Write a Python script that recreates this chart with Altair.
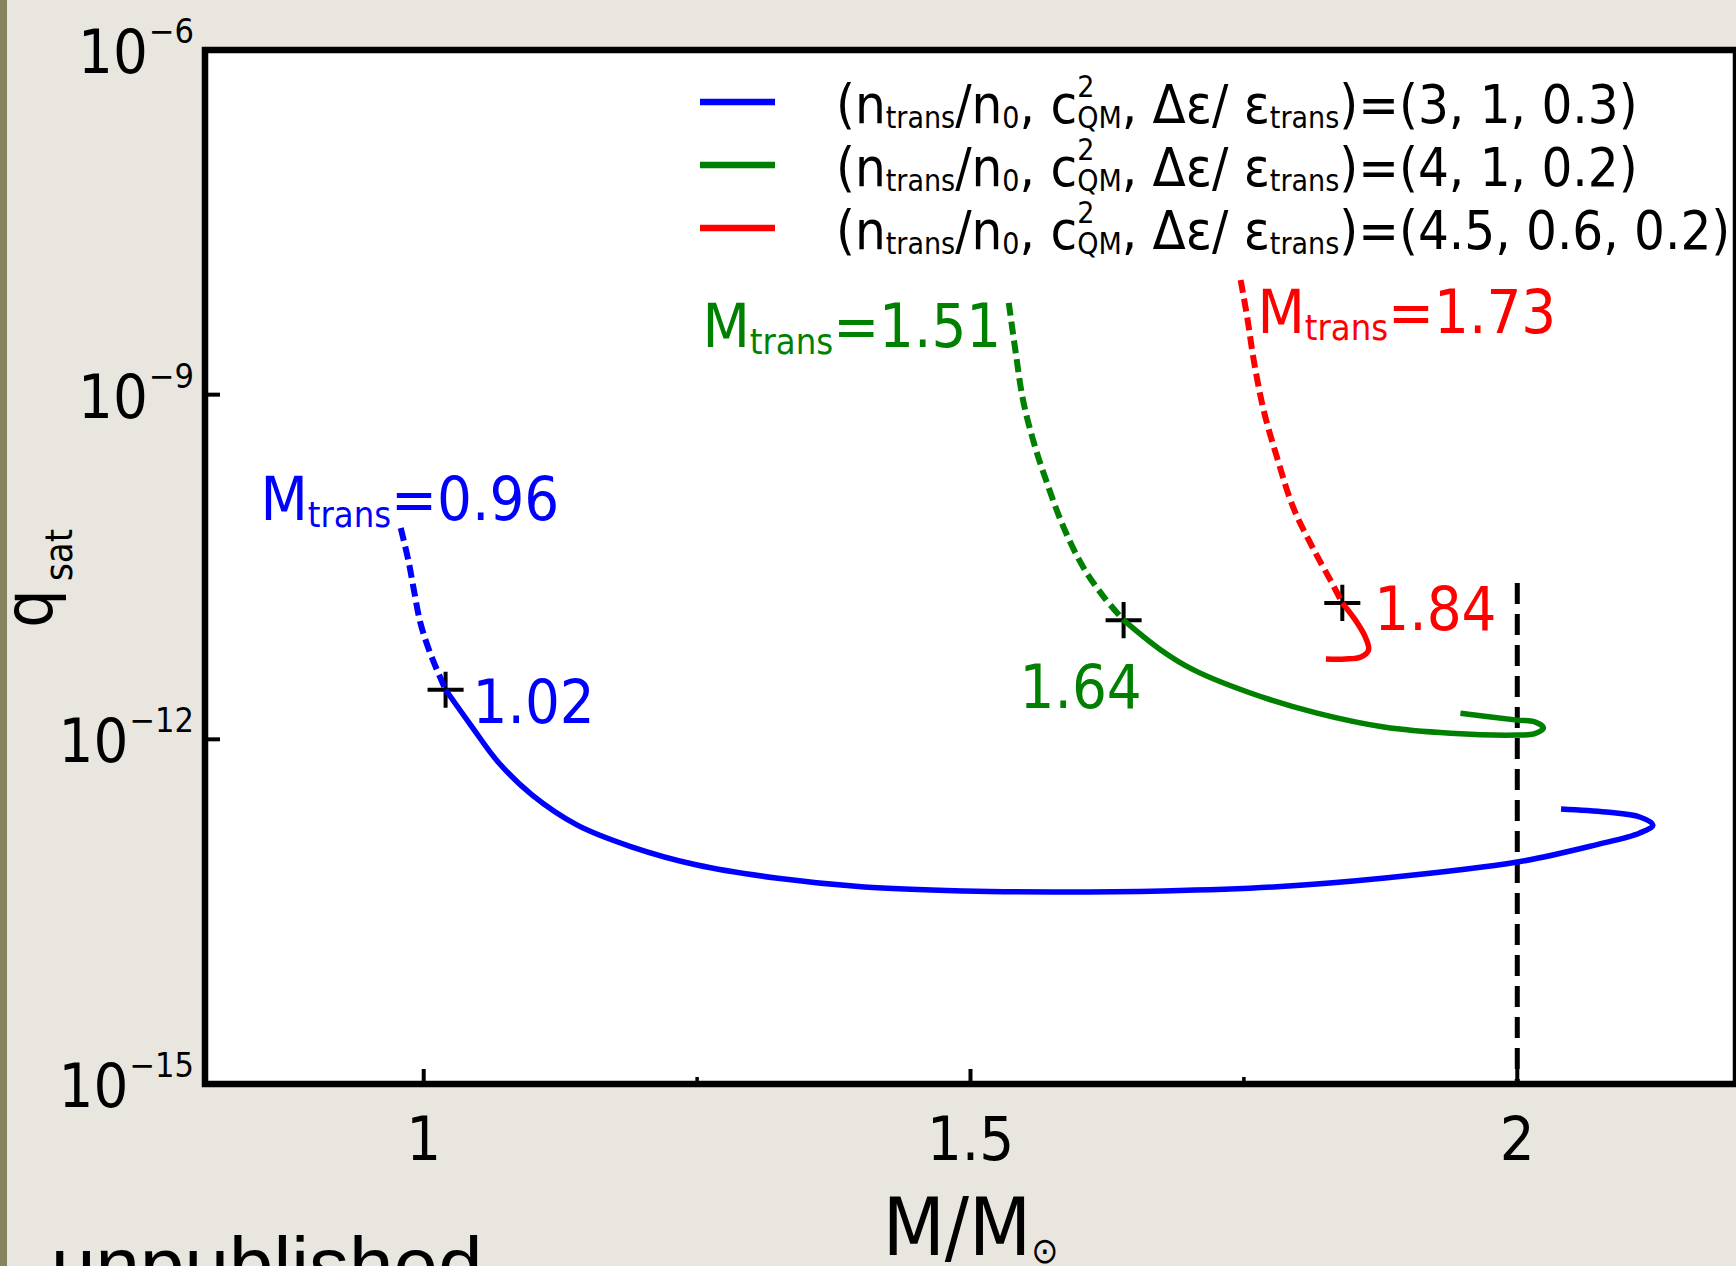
import altair as alt
import pandas as pd

# ---------------- data ----------------
# q_sat versus M/M_sun for three hybrid-star equations of state.
# Dashed parts run from the top of each branch down to the marked point,
# solid parts continue from there.
blue_dash_m = [0.979, 0.986, 0.991, 0.997, 1.006, 1.02]
blue_dash_q = [6.9e-11, 3.6e-11, 2.0e-11, 1.03e-11, 5.6e-12, 2.7e-12]
blue_solid_m = [1.02, 1.043, 1.068, 1.099, 1.140, 1.190, 1.250, 1.322, 1.403, 1.494,
                1.575, 1.676, 1.777, 1.879, 2.0, 2.071, 2.112, 2.124, 2.112, 2.081, 2.040]
blue_solid_q = [2.7e-12, 1.33e-12, 6.35e-13, 3.28e-13, 1.80e-13, 1.16e-13, 8.05e-14, 6.21e-14,
                5.19e-14, 4.79e-14, 4.69e-14, 4.79e-14, 5.19e-14, 6.21e-14, 8.55e-14, 1.20e-13,
                1.53e-13, 1.80e-13, 2.11e-13, 2.33e-13, 2.48e-13]

green_dash_m = [1.535, 1.541, 1.548, 1.558, 1.570, 1.585, 1.603, 1.622, 1.64]
green_dash_q = [6.3e-9, 2.45e-9, 9.0e-10, 3.8e-10, 1.7e-10, 7.05e-11, 3.16e-11, 1.73e-11, 1.09e-11]
green_solid_m = [1.64, 1.674, 1.704, 1.756, 1.817, 1.878, 1.939, 2.0, 2.016, 2.024, 2.016, 2.0, 1.948]
green_solid_q = [1.09e-11, 6.0e-12, 4.02e-12, 2.53e-12, 1.69e-12, 1.28e-12, 1.13e-12, 1.09e-12,
                 1.12e-12, 1.26e-12, 1.42e-12, 1.47e-12, 1.69e-12]

red_dash_m = [1.747, 1.753, 1.759, 1.768, 1.781, 1.795, 1.814, 1.829, 1.84]
red_dash_q = [9.95e-9, 4.74e-9, 2.0e-9, 7.36e-10, 2.70e-10, 1.05e-10, 4.45e-11, 2.44e-11, 1.54e-11]
red_solid_m = [1.84, 1.852, 1.861, 1.864, 1.857, 1.843, 1.825]
red_solid_q = [1.54e-11, 1.09e-11, 7.78e-12, 6.0e-12, 5.21e-12, 5.0e-12, 5.0e-12]

# marked points (M, q_sat) and transition masses
mark_m = [1.02, 1.64, 1.84]
mark_q = [2.7e-12, 1.09e-11, 1.54e-11]
m_trans = [0.96, 1.51, 1.73]

# EoS parameters (n_trans/n0, c2_QM, d_eps/eps_trans)
n_trans = [3, 4, 4.5]
c2_qm = [1, 1, 0.6]
d_eps = [0.3, 0.2, 0.2]

# 2 M_sun reference line
ref_m = 2.0
ref_q = [2.3e-11, 1e-15]

# axes
y_tick_values = [1e-15, 1e-12, 1e-9, 1e-6]
y_tick_exps = ["\u221215", "\u221212", "\u22129", "\u22126"]
x_tick_values = [1, 1.5, 2]
x_tick_labels = ["1", "1.5", "2"]
x_minor_values = [1.25, 1.75]

# ---------------- styling ----------------
W, H = 1531, 1034
FONT = "DejaVu Sans Condensed"
COLORS = ["#0000ff", "#008000", "#ff0000"]
XS = alt.Scale(domain=[0.8, 2.2], nice=False, zero=False)
YS = alt.Scale(type="log", domain=[1e-15, 1e-6], nice=False)
ONE = pd.DataFrame({"k": [0]})

# advance widths of DejaVu Sans (units per em 2048); condensed face is 0.9x
ADV = {" ": 651, "(": 799, ")": 799, ",": 651, ".": 651, "/": 690, "=": 1716,
       "\u2212": 1716, "M": 1767, "Q": 1612, "a": 1255, "b": 1300, "c": 1126,
       "d": 1300, "e": 1260, "h": 1298, "i": 569, "l": 569, "n": 1298, "p": 1300,
       "q": 1300, "r": 842, "s": 1067, "t": 803, "u": 1298, "\u0394": 1401,
       "\u03b5": 1100, "\u2299": 1716}


def text_width(s, size):
    return sum(ADV.get(ch, 1303) for ch in s) * 0.9 / 2048 * size


def xd(v):
    return alt.XDatum(v, scale=XS, axis=None)


def yd(v):
    return alt.YDatum(v, scale=YS, axis=None)


def rich(x_enc, y_enc, pieces, color, dx0=0.0, dy0=0.0):
    """Text made of pieces (text, size, baseline shift, advances) laid left to right."""
    out = []
    cursor = dx0
    for txt, size, shift, adv in pieces:
        kw = dict(text=txt, font=FONT, fontSize=size, color=color, align="left",
                  baseline="alphabetic", dx=cursor, dy=dy0 + shift)
        out.append(alt.Chart(ONE).mark_text(**kw).encode(x=x_enc, y=y_enc))
        if adv:
            cursor += text_width(txt, size)
    return out


def curve(ms, qs, color, dashed):
    df = pd.DataFrame({"m": ms, "q": qs, "i": range(len(ms))})
    kw = dict(color=color, strokeWidth=5.5, interpolate="catmull-rom")
    if dashed:
        kw["strokeDash"] = [13, 6]
        kw["strokeWidth"] = 6
    return alt.Chart(df).mark_line(**kw).encode(
        x=alt.X("m:Q", scale=XS, axis=None),
        y=alt.Y("q:Q", scale=YS, axis=None),
        order=alt.Order("i:Q"),
    )


layers = []

# left edge strip of the slide
layers.append(alt.Chart(ONE).mark_rect(color="#858360").encode(
    x=alt.value(-205), x2=alt.value(-198), y=alt.value(-50), y2=alt.value(H + 182)))

# 2 M_sun reference line
layers.append(alt.Chart(pd.DataFrame({"m": [ref_m, ref_m], "q": ref_q})).mark_line(
    color="black", strokeWidth=5, strokeDash=[21, 10]).encode(
    x=alt.X("m:Q", scale=XS, axis=None), y=alt.Y("q:Q", scale=YS, axis=None)))

# marked points
layers.append(alt.Chart(pd.DataFrame({"m": mark_m, "q": mark_q})).mark_point(
    shape="M-1,0L1,0M0,-1L0,1", filled=False, color="black", strokeWidth=4, size=1300,
    opacity=1).encode(
    x=alt.X("m:Q", scale=XS, axis=None), y=alt.Y("q:Q", scale=YS, axis=None)))

# curves
for (dm, dq, sm, sq), col in zip(
        [(blue_dash_m, blue_dash_q, blue_solid_m, blue_solid_q),
         (green_dash_m, green_dash_q, green_solid_m, green_solid_q),
         (red_dash_m, red_dash_q, red_solid_m, red_solid_q)], COLORS):
    layers.append(curve(dm, dq, col, True))
    layers.append(curve(sm, sq, col, False))

# inward ticks
layers.append(alt.Chart(pd.DataFrame({"q": [1e-9, 1e-12]})).mark_rule(
    color="black", strokeWidth=4).encode(
    y=alt.Y("q:Q", scale=YS, axis=None), x=alt.value(0), x2=alt.value(15)))
layers.append(alt.Chart(pd.DataFrame({"m": x_tick_values})).mark_rule(
    color="black", strokeWidth=4).encode(
    x=alt.X("m:Q", scale=XS, axis=None), y=alt.value(H), y2=alt.value(H - 15)))
layers.append(alt.Chart(pd.DataFrame({"m": x_minor_values})).mark_rule(
    color="black", strokeWidth=3.5).encode(
    x=alt.X("m:Q", scale=XS, axis=None), y=alt.value(H), y2=alt.value(H - 7)))

# y tick labels: 10 with a raised exponent
for v, e in zip(y_tick_values, y_tick_exps):
    w_exp = text_width(e, 34)
    layers.append(alt.Chart(ONE).mark_text(
        text=e, font=FONT, fontSize=34, color="black", align="right",
        baseline="alphabetic", dy=-7).encode(x=alt.value(-11), y=yd(v)))
    layers.append(alt.Chart(ONE).mark_text(
        text="10", font=FONT, fontSize=61, color="black", align="right",
        baseline="alphabetic", dy=23).encode(x=alt.value(-11 - w_exp - 1), y=yd(v)))

# x tick labels
for v, lab in zip(x_tick_values, x_tick_labels):
    layers.append(alt.Chart(ONE).mark_text(
        text=lab, font=FONT, fontSize=61, color="black", align="center",
        baseline="alphabetic").encode(x=xd(v), y=alt.value(H + 76)))

# axis titles
t1 = text_width("M/M", 80)
t2 = text_width("\u2299", 36)
layers += rich(alt.value(W / 2), alt.value(H + 171),
               [("M/M", 80, 0, True), ("\u2299", 36, 8, True)],
               "black", dx0=-(t1 + t2) / 2)
layers.append(alt.Chart(ONE).mark_text(
    text="q", font=FONT, fontSize=68, color="black", align="left",
    baseline="alphabetic", angle=270).encode(x=alt.value(-153), y=alt.value(578)))
layers.append(alt.Chart(ONE).mark_text(
    text="sat", font=FONT, fontSize=38, color="black", align="left",
    baseline="alphabetic", angle=270).encode(x=alt.value(-133), y=alt.value(531)))

# legend
for k, col in enumerate(COLORS):
    ly = 52 + 63 * k
    layers.append(alt.Chart(ONE).mark_rule(color=col, strokeWidth=6.5).encode(
        x=alt.value(495), x2=alt.value(570), y=alt.value(ly)))
    params = f"({n_trans[k]:g}, {c2_qm[k]:g}, {d_eps[k]:g})"
    pieces = [("(n", 54, 0, True), ("trans", 30, 5, True), ("/n", 54, 0, True),
              ("0", 30, 5, True), (", c", 54, 0, True), ("2", 30, -26, False),
              ("QM", 30, 5, True), (", \u0394\u03b5/ \u03b5", 54, 0, True),
              ("trans", 30, 5, True), (")=" + params, 54, 0, True)]
    layers += rich(alt.value(631), alt.value(ly + 21), pieces, "black")

# transition-mass labels at the top of each dashed branch
trans_anchor = [(0.8507, 8.1e-11), (1.2549, 2.6e-9), (1.7624, 3.44e-9)]
for k, col in enumerate(COLORS):
    ax, ay = trans_anchor[k]
    pieces = [("M", 61, 0, True), ("trans", 36, 7, True), (f"={m_trans[k]:.2f}", 61, 0, True)]
    layers += rich(xd(ax), yd(ay), pieces, col)

# labels of the marked points
mark_offsets = [(27, 33), (-104, 88), (32, 27)]
for k, col in enumerate(COLORS):
    ox, oy = mark_offsets[k]
    layers.append(alt.Chart(ONE).mark_text(
        text=f"{mark_m[k]:.2f}", font=FONT, fontSize=61, color=col, align="left",
        baseline="alphabetic", dx=ox, dy=oy).encode(x=xd(mark_m[k]), y=yd(mark_q[k])))

# slide footnote
layers.append(alt.Chart(ONE).mark_text(
    text="unpublished", font="Liberation Sans", fontSize=80, color="black",
    align="left", baseline="alphabetic").encode(x=alt.value(-154), y=alt.value(H + 209)))

chart = alt.layer(*layers).properties(
    width=W, height=H,
    padding={"left": 205, "top": 50, "right": 0, "bottom": 182},
    autosize=alt.AutoSizeParams(type="none"),
    background="#e8e6df",
).configure_view(stroke="black", strokeWidth=6.5, fill="white")

chart.save("out.html", embed_options={"renderer": "svg", "actions": False})
